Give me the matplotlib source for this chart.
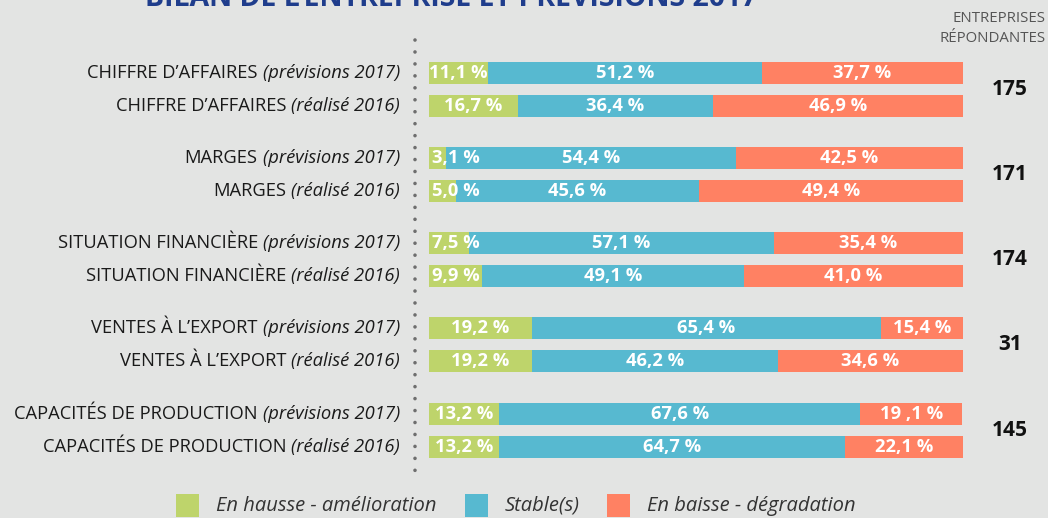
import matplotlib
matplotlib.use("Agg")
import matplotlib.pyplot as plt
from matplotlib.transforms import blended_transform_factory
from matplotlib.patches import Rectangle

plt.rcParams['font.family'] = ['Open Sans', 'DejaVu Sans']

# data
groups = ["CHIFFRE D’AFFAIRES", "MARGES", "SITUATION FINANCIÈRE",
          "VENTES À L’EXPORT", "CAPACITÉS DE PRODUCTION"]
periods = ["(prévisions 2017)", "(réalisé 2016)"]
repondants = [175, 171, 174, 31, 145]

hausse = [11.1, 16.7, 3.1, 5.0, 7.5, 9.9, 19.2, 19.2, 13.2, 13.2]
stable = [51.2, 36.4, 54.4, 45.6, 57.1, 49.1, 65.4, 46.2, 67.6, 64.7]
baisse = [37.7, 46.9, 42.5, 49.4, 35.4, 41.0, 15.4, 34.6, 19.1, 22.1]
baisse_txt = ["37,7 %", "46,9 %", "42,5 %", "49,4 %", "35,4 %",
              "41,0 %", "15,4 %", "34,6 %", "19 ,1 %", "22,1 %"]

legend_labels = ["En hausse - amélioration", "Stable(s)", "En baisse - dégradation"]

c_green = "#bed46b"
c_blue = "#57b9d0"
c_orange = "#ff8163"
bg = "#e3e4e3"

W, H = 1048, 518
fig = plt.figure(figsize=(W / 100, H / 100), dpi=100, facecolor=bg)

# bars area: x 429..963 px
ax = fig.add_axes([429 / W, 0, 534 / W, 1])
ax.set_facecolor(bg)
ax.set_xlim(0, 100)
row_px = 33.0
top_px = 73.0
ax.set_ylim((H - top_px) / row_px, -top_px / row_px)
ax.axis("off")

ys = []
for g in range(len(groups)):
    for r in range(2):
        ys.append(g * 2.58 + r)

bh = 0.67
fmt = lambda v: ("%.1f %%" % v).replace(".", ",")
for i, y in enumerate(ys):
    h, s, b = hausse[i], stable[i], baisse[i]
    ax.barh(y, h, height=bh, left=0, color=c_green)
    ax.barh(y, s, height=bh, left=h, color=c_blue)
    ax.barh(y, b, height=bh, left=h + s, color=c_orange)
    kw = dict(color="white", fontsize=13.2, fontweight="bold", va="center")
    if h < 10:
        ax.text(0.5, y, fmt(h), ha="left", **kw)
    else:
        ax.text(h / 2, y, fmt(h), ha="center", **kw)
    ax.text(h + s / 2, y, fmt(s), ha="center", **kw)
    ax.text(h + s + b / 2, y, baisse_txt[i], ha="center", **kw)

# figure-x / data-y transform for side texts
tr = blended_transform_factory(fig.transFigure, ax.transData)

renderer = fig.canvas.get_renderer()
for g, name in enumerate(groups):
    for r in range(2):
        y = ys[g * 2 + r]
        t = ax.text(400 / W, y, periods[r], transform=tr, ha="right", va="center",
                    fontsize=13.2, style="italic", color="#1a1a1a", clip_on=False)
        bb = t.get_window_extent(renderer)
        ax.text((bb.x0 - 5) / W, y, name, transform=tr, ha="right", va="center",
                fontsize=13.2, color="#1a1a1a", clip_on=False)
    ax.text(1010 / W, (ys[g * 2] + ys[g * 2 + 1]) / 2, str(repondants[g]), transform=tr,
            ha="center", va="center", fontsize=15, fontweight="bold", color="#111111",
            clip_on=False)

# dotted separator
fig.add_artist(plt.Line2D([415 / W, 415 / W], [1 - 40 / H, 1 - 480 / H], transform=fig.transFigure,
                          color="#6e6e6e", lw=2.6, linestyle=(0, (0.01, 3.3)),
                          dash_capstyle="round"))

# header texts
fig.text(1046 / W, 1 - 18 / H, "ENTREPRISES", ha="right", va="center", fontsize=10.8,
         color="#555555")
fig.text(1046 / W, 1 - 38 / H, "RÉPONDANTES", ha="right", va="center", fontsize=10.8,
         color="#555555")
fig.text(145 / W, 1 - 6 / H, "BILAN DE L’ENTREPRISE ET PRÉVISIONS 2017", ha="left",
         va="baseline", fontsize=20.5, fontweight="bold", color="#1f3d8c")

# legend
leg_x = [176, 465, 607]
leg_colors = [c_green, c_blue, c_orange]
for x0, col, lab in zip(leg_x, leg_colors, legend_labels):
    fig.add_artist(Rectangle((x0 / W, 1 - 517 / H), 23 / W, 23 / H, transform=fig.transFigure,
                             facecolor=col, edgecolor="none"))
    fig.text((x0 + 40) / W, 1 - 506 / H, lab, ha="left", va="center", fontsize=14.5,
             style="italic", color="#333333")

fig.savefig("out.png", dpi=100, facecolor=bg)
